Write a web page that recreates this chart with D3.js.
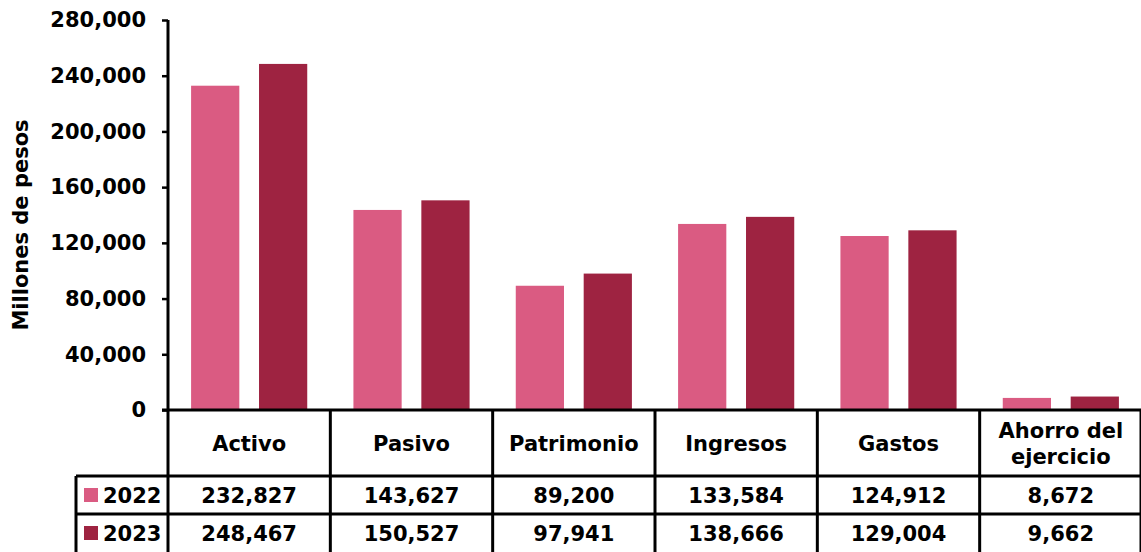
<!DOCTYPE html>
<html>
<head>
<meta charset="utf-8">
<script src="https://cdn.jsdelivr.net/npm/d3@7"></script>
<style>
  body { margin: 0; background: #fff; }
  svg { display: block; font-family: "DejaVu Sans", sans-serif; font-weight: bold; }
</style>
</head>
<body>
<div id="chart"></div>
<script>
// data
const categories = ["Activo", "Pasivo", "Patrimonio", "Ingresos", "Gastos", "Ahorro del ejercicio"];
const years = ["2022", "2023"];
const values2022 = [232827, 143627, 89200, 133584, 124912, 8672];
const values2023 = [248467, 150527, 97941, 138666, 129004, 9662];
const yTicks = [0, 40000, 80000, 120000, 160000, 200000, 240000, 280000];
const colors = ["#DA5B82", "#9E2341"];

const width = 1141, height = 552;
const margin = {top: 20, left: 168, right: -1, bottom: 142};
const plotW = width - margin.left - margin.right;
const plotH = height - margin.top - margin.bottom; // zero line at y=410

const svg = d3.select("#chart").append("svg")
    .attr("width", width)
    .attr("height", height);

const x0 = d3.scaleBand().domain(categories).range([margin.left, margin.left + plotW]);
const x1 = d3.scaleBand().domain(years).range([0, x0.bandwidth()]).paddingInner(0.29).paddingOuter(0.34);
const y = d3.scaleLinear().domain([0, 280000]).range([margin.top + plotH, margin.top]);

const series = [values2022, values2023];

// bars
series.forEach((vals, si) => {
    svg.append("g").selectAll("rect")
        .data(vals)
        .enter().append("rect")
        .attr("x", (d, i) => x0(categories[i]) + x1(years[si]))
        .attr("y", d => y(d))
        .attr("width", x1.bandwidth())
        .attr("height", d => y(0) - y(d))
        .attr("fill", colors[si]);
});

// y axis
const yAxis = d3.axisLeft(y).tickValues(yTicks).tickSize(6).tickPadding(16)
    .tickFormat(d3.format(","));
const yg = svg.append("g").attr("transform", "translate(" + margin.left + ",0)").call(yAxis);
yg.select(".domain").attr("stroke", "#000").attr("stroke-width", 3).attr("d", "M0," + (margin.top) + "V" + (margin.top + plotH));
yg.selectAll(".tick line").attr("stroke", "#000").attr("stroke-width", 2.5);
yg.selectAll(".tick text")
    .attr("fill", "#000")
    .attr("font-size", 21)
    .attr("font-family", "DejaVu Sans")
    .attr("font-weight", "bold");

svg.append("text")
    .attr("transform", "translate(28," + (margin.top + plotH / 2 + 10) + ") rotate(-90)")
    .attr("text-anchor", "middle")
    .attr("font-size", 21)
    .text("Millones de pesos");

// data table
const zeroY = y(0);
const headBottom = 476;
const rowMid = 514;
const tableBottom = 552;
const legendLeft = 76;
const tableRight = margin.left + plotW;

const lines = svg.append("g").attr("stroke", "#000").attr("stroke-width", 3);
lines.append("line").attr("x1", margin.left - 6).attr("x2", tableRight).attr("y1", zeroY).attr("y2", zeroY);
[headBottom, rowMid].forEach(yy => {
    lines.append("line").attr("x1", legendLeft).attr("x2", tableRight).attr("y1", yy).attr("y2", yy);
});
lines.append("line").attr("x1", legendLeft).attr("x2", legendLeft).attr("y1", headBottom).attr("y2", tableBottom);
categories.forEach((c, i) => {
    const xx = x0(c);
    lines.append("line").attr("x1", xx).attr("x2", xx).attr("y1", zeroY).attr("y2", tableBottom);
});
lines.append("line").attr("x1", tableRight - 1).attr("x2", tableRight - 1).attr("y1", zeroY).attr("y2", tableBottom);

// header labels
const headerLines = categories.map(c => c === "Ahorro del ejercicio" ? ["Ahorro del", "ejercicio"] : [c]);
headerLines.forEach((ls, i) => {
    const cx = x0(categories[i]) + x0.bandwidth() / 2;
    const midY = (zeroY + headBottom) / 2;
    ls.forEach((t, j) => {
        svg.append("text")
            .attr("x", cx)
            .attr("y", midY + (j - (ls.length - 1) / 2) * 26 + 8)
            .attr("text-anchor", "middle")
            .attr("font-size", 21)
            .text(t);
    });
});

// rows
const fmt = d3.format(",");
const rowMids = [(headBottom + rowMid) / 2, (rowMid + tableBottom) / 2];
series.forEach((vals, si) => {
    const cy = rowMids[si];
    svg.append("rect")
        .attr("x", 84).attr("y", cy - 7)
        .attr("width", 14).attr("height", 14)
        .attr("fill", colors[si]);
    svg.append("text")
        .attr("x", 103).attr("y", cy + 8)
        .attr("font-size", 21)
        .text(years[si]);
    vals.forEach((v, i) => {
        svg.append("text")
            .attr("x", x0(categories[i]) + x0.bandwidth() / 2)
            .attr("y", cy + 8)
            .attr("text-anchor", "middle")
            .attr("font-size", 21)
            .text(fmt(v));
    });
});
</script>
</body>
</html>
